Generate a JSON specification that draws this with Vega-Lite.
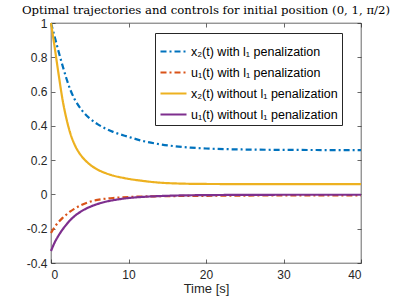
{
  "$schema": "https://vega.github.io/schema/vega-lite/v6.json",
  "width": 310,
  "height": 240,
  "autosize": {"type": "none"},
  "padding": {"left": 51, "top": 23, "right": 38, "bottom": 36},
  "background": "white",
  "title": {"text": "Optimal trajectories and controls for initial position (0, 1, π/2)", "font": "DejaVu Serif", "fontSize": 11.7, "fontWeight": "normal", "color": "#000000", "offset": 0, "anchor": "middle"},
  "config": {
    "view": {"stroke": "#262626", "strokeWidth": 0.7},
    "axis": {"grid": false, "domain": false, "tickColor": "#262626", "tickWidth": 0.7, "labelColor": "#262626", "labelFont": "Liberation Sans", "labelFontSize": 12, "titleFont": "Liberation Sans", "titleFontSize": 13, "titleFontWeight": "normal", "titleColor": "#262626"},
    "legend": {"orient": "none", "legendX": 104, "legendY": 10, "strokeColor": "#262626", "fillColor": "white", "padding": 4, "labelFont": "Liberation Sans", "labelFontSize": 12.5, "labelColor": "#000000", "symbolType": "stroke", "symbolSize": 676, "symbolStrokeWidth": 2.2, "rowPadding": -16, "labelOffset": 3, "labelLimit": 300}
  },
  "data": {"values": [
    {"s": "x₂(t) with l₁ penalization", "t": 0, "v": 1.0},
    {"s": "x₂(t) with l₁ penalization", "t": 0.5, "v": 0.915},
    {"s": "x₂(t) with l₁ penalization", "t": 1, "v": 0.83},
    {"s": "x₂(t) with l₁ penalization", "t": 1.5, "v": 0.75},
    {"s": "x₂(t) with l₁ penalization", "t": 2, "v": 0.675},
    {"s": "x₂(t) with l₁ penalization", "t": 2.5, "v": 0.61},
    {"s": "x₂(t) with l₁ penalization", "t": 3, "v": 0.56},
    {"s": "x₂(t) with l₁ penalization", "t": 4, "v": 0.49},
    {"s": "x₂(t) with l₁ penalization", "t": 5, "v": 0.443},
    {"s": "x₂(t) with l₁ penalization", "t": 6, "v": 0.41},
    {"s": "x₂(t) with l₁ penalization", "t": 7, "v": 0.385},
    {"s": "x₂(t) with l₁ penalization", "t": 8, "v": 0.365},
    {"s": "x₂(t) with l₁ penalization", "t": 10, "v": 0.336},
    {"s": "x₂(t) with l₁ penalization", "t": 12, "v": 0.31},
    {"s": "x₂(t) with l₁ penalization", "t": 14, "v": 0.293},
    {"s": "x₂(t) with l₁ penalization", "t": 16, "v": 0.281},
    {"s": "x₂(t) with l₁ penalization", "t": 18, "v": 0.273},
    {"s": "x₂(t) with l₁ penalization", "t": 20, "v": 0.268},
    {"s": "x₂(t) with l₁ penalization", "t": 25, "v": 0.262},
    {"s": "x₂(t) with l₁ penalization", "t": 30, "v": 0.26},
    {"s": "x₂(t) with l₁ penalization", "t": 35, "v": 0.259},
    {"s": "x₂(t) with l₁ penalization", "t": 40, "v": 0.259},
    {"s": "u₁(t) with l₁ penalization", "t": 0, "v": -0.225},
    {"s": "u₁(t) with l₁ penalization", "t": 0.5, "v": -0.188},
    {"s": "u₁(t) with l₁ penalization", "t": 1, "v": -0.16},
    {"s": "u₁(t) with l₁ penalization", "t": 1.5, "v": -0.137},
    {"s": "u₁(t) with l₁ penalization", "t": 2, "v": -0.117},
    {"s": "u₁(t) with l₁ penalization", "t": 2.5, "v": -0.099},
    {"s": "u₁(t) with l₁ penalization", "t": 3, "v": -0.084},
    {"s": "u₁(t) with l₁ penalization", "t": 4, "v": -0.06},
    {"s": "u₁(t) with l₁ penalization", "t": 5, "v": -0.043},
    {"s": "u₁(t) with l₁ penalization", "t": 6, "v": -0.032},
    {"s": "u₁(t) with l₁ penalization", "t": 8, "v": -0.021},
    {"s": "u₁(t) with l₁ penalization", "t": 10, "v": -0.015},
    {"s": "u₁(t) with l₁ penalization", "t": 15, "v": -0.01},
    {"s": "u₁(t) with l₁ penalization", "t": 20, "v": -0.008},
    {"s": "u₁(t) with l₁ penalization", "t": 30, "v": -0.006},
    {"s": "u₁(t) with l₁ penalization", "t": 40, "v": -0.006},
    {"s": "x₂(t) without l₁ penalization", "t": 0, "v": 1.0},
    {"s": "x₂(t) without l₁ penalization", "t": 0.5, "v": 0.85},
    {"s": "x₂(t) without l₁ penalization", "t": 1, "v": 0.695},
    {"s": "x₂(t) without l₁ penalization", "t": 1.5, "v": 0.55},
    {"s": "x₂(t) without l₁ penalization", "t": 2, "v": 0.44},
    {"s": "x₂(t) without l₁ penalization", "t": 2.5, "v": 0.355},
    {"s": "x₂(t) without l₁ penalization", "t": 3, "v": 0.295},
    {"s": "x₂(t) without l₁ penalization", "t": 3.5, "v": 0.252},
    {"s": "x₂(t) without l₁ penalization", "t": 4, "v": 0.22},
    {"s": "x₂(t) without l₁ penalization", "t": 5, "v": 0.175},
    {"s": "x₂(t) without l₁ penalization", "t": 6, "v": 0.145},
    {"s": "x₂(t) without l₁ penalization", "t": 7, "v": 0.125},
    {"s": "x₂(t) without l₁ penalization", "t": 8, "v": 0.11},
    {"s": "x₂(t) without l₁ penalization", "t": 9.5, "v": 0.095},
    {"s": "x₂(t) without l₁ penalization", "t": 12, "v": 0.078},
    {"s": "x₂(t) without l₁ penalization", "t": 15, "v": 0.066},
    {"s": "x₂(t) without l₁ penalization", "t": 20, "v": 0.061},
    {"s": "x₂(t) without l₁ penalization", "t": 30, "v": 0.06},
    {"s": "x₂(t) without l₁ penalization", "t": 40, "v": 0.06},
    {"s": "u₁(t) without l₁ penalization", "t": 0, "v": -0.33},
    {"s": "u₁(t) without l₁ penalization", "t": 0.5, "v": -0.278},
    {"s": "u₁(t) without l₁ penalization", "t": 1, "v": -0.238},
    {"s": "u₁(t) without l₁ penalization", "t": 1.5, "v": -0.204},
    {"s": "u₁(t) without l₁ penalization", "t": 2, "v": -0.175},
    {"s": "u₁(t) without l₁ penalization", "t": 2.5, "v": -0.149},
    {"s": "u₁(t) without l₁ penalization", "t": 3, "v": -0.128},
    {"s": "u₁(t) without l₁ penalization", "t": 4, "v": -0.096},
    {"s": "u₁(t) without l₁ penalization", "t": 5, "v": -0.073},
    {"s": "u₁(t) without l₁ penalization", "t": 6, "v": -0.056},
    {"s": "u₁(t) without l₁ penalization", "t": 7, "v": -0.043},
    {"s": "u₁(t) without l₁ penalization", "t": 8, "v": -0.034},
    {"s": "u₁(t) without l₁ penalization", "t": 10, "v": -0.021},
    {"s": "u₁(t) without l₁ penalization", "t": 12, "v": -0.014},
    {"s": "u₁(t) without l₁ penalization", "t": 15, "v": -0.008},
    {"s": "u₁(t) without l₁ penalization", "t": 20, "v": -0.004},
    {"s": "u₁(t) without l₁ penalization", "t": 30, "v": -0.002},
    {"s": "u₁(t) without l₁ penalization", "t": 40, "v": -0.002}
  ]},
  "layer": [
    {
      "mark": {"type": "line", "strokeWidth": 2.2, "interpolate": "monotone"},
      "encoding": {
        "x": {"field": "t", "type": "quantitative", "scale": {"domain": [0, 40], "nice": false}, "axis": {"values": [0, 10, 20, 30, 40], "title": "Time [s]", "tickSize": -4, "labelPadding": 10, "titlePadding": 2}},
        "y": {"field": "v", "type": "quantitative", "scale": {"domain": [-0.4, 1], "nice": false, "zero": false}, "axis": {"values": [-0.4, -0.2, 0, 0.2, 0.4, 0.6, 0.8, 1], "title": null, "tickSize": -4, "labelPadding": 8, "labelExpr": "'' + datum.value"}},
        "color": {"field": "s", "type": "nominal", "scale": {"domain": ["x₂(t) with l₁ penalization", "u₁(t) with l₁ penalization", "x₂(t) without l₁ penalization", "u₁(t) without l₁ penalization"], "range": ["#0072BD", "#D95319", "#EDB120", "#7E2F8E"]}, "legend": {"title": null}},
        "strokeDash": {"field": "s", "type": "nominal", "scale": {"domain": ["x₂(t) with l₁ penalization", "u₁(t) with l₁ penalization", "x₂(t) without l₁ penalization", "u₁(t) without l₁ penalization"], "range": [[6, 3, 2, 3], [6, 3, 2, 3], [1, 0], [1, 0]]}, "legend": {"title": null}}
      }
    },
    {
      "mark": {"type": "point", "opacity": 0},
      "encoding": {
        "x": {"field": "t", "type": "quantitative", "scale": {"domain": [0, 40], "nice": false}, "axis": {"orient": "top", "values": [0, 10, 20, 30, 40], "labels": false, "title": null, "tickSize": -4}},
        "y": {"field": "v", "type": "quantitative", "scale": {"domain": [-0.4, 1], "nice": false, "zero": false}, "axis": {"orient": "right", "values": [-0.4, -0.2, 0, 0.2, 0.4, 0.6, 0.8, 1], "labels": false, "title": null, "tickSize": -4}}
      }
    }
  ],
  "resolve": {"axis": {"x": "independent", "y": "independent"}}
}
